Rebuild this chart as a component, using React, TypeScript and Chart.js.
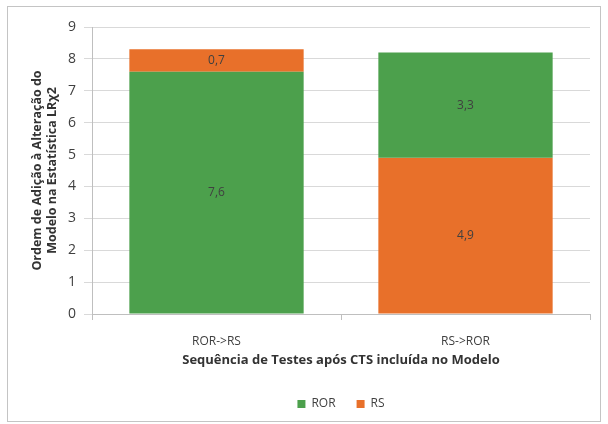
import React, { useEffect, useRef } from "react";
import { Chart, registerables } from "chart.js";

Chart.register(...registerables);

const categories = ["ROR->RS", "RS->ROR"];
const rorValues = [7.6, 3.3];
const rsValues = [0.7, 4.9];
const bottomSeries = ["ROR", "RS"]; // which series sits at the bottom in each category
const yTicksMax = 9;
const yTitle = ["Ordem de Adição à Alteração do", "Modelo na Estatística LRχ2"];
const xTitle = "Sequência de Testes após CTS incluída no Modelo";

const GREEN = "#4ca04c";
const ORANGE = "#e8702a";
const FONT = "'Open Sans', 'Noto Sans', sans-serif";

function ranges(series: "ROR" | "RS") {
  return categories.map((_, i) => {
    const ror = rorValues[i];
    const rs = rsValues[i];
    const bottom = bottomSeries[i];
    const own = series === "ROR" ? ror : rs;
    const other = series === "ROR" ? rs : ror;
    if (bottom === series) return [0, own];
    return [other, other + own];
  });
}

const valueLabels = {
  id: "valueLabels",
  afterDatasetsDraw(chart: any) {
    const ctx = chart.ctx;
    ctx.save();
    ctx.font = `12px ${FONT}`;
    ctx.fillStyle = "#404040";
    ctx.textAlign = "center";
    ctx.textBaseline = "middle";
    chart.data.datasets.forEach((ds: any, di: number) => {
      const meta = chart.getDatasetMeta(di);
      meta.data.forEach((bar: any, i: number) => {
        const v = ds.raw[i];
        const y = (bar.y + bar.base) / 2;
        ctx.fillText(v.toFixed(1).replace(".", ","), bar.x, y);
      });
    });
    ctx.restore();
  },
};

// centre the legend under the plot area rather than the whole canvas
const legendUnderPlot = {
  id: "legendUnderPlot",
  afterLayout(chart: any) {
    const lg = chart.legend;
    const ca = chart.chartArea;
    if (!lg || !ca) return;
    const dx = (ca.left + ca.right) / 2 - (lg.left + lg.right) / 2;
    lg.left += dx;
    lg.right += dx;
  },
};

export default function App() {
  const ref = useRef<HTMLCanvasElement>(null);
  useEffect(() => {
    if (!ref.current) return;
    const chart = new Chart(ref.current, {
      type: "bar",
      data: {
        labels: categories,
        datasets: [
          {
            label: "ROR",
            data: ranges("ROR") as any,
            raw: rorValues,
            backgroundColor: GREEN,
            barPercentage: 0.7,
            categoryPercentage: 1,
          } as any,
          {
            label: "RS",
            data: ranges("RS") as any,
            raw: rsValues,
            backgroundColor: ORANGE,
            barPercentage: 0.7,
            categoryPercentage: 1,
          } as any,
        ],
      },
      options: {
        animation: false,
        responsive: false,
        layout: { padding: { left: 22, right: 10, top: 20, bottom: 1 } },
        scales: {
          x: {
            stacked: true,
            grid: {
              offset: true,
              drawOnChartArea: false,
              drawTicks: true,
              tickLength: 6,
              color: "#bfbfbf",
            },
            border: { color: "#bfbfbf" },
            ticks: { color: "#404040", font: { family: FONT, size: 12 }, padding: 14 },
            title: {
              display: true,
              text: xTitle,
              color: "#333333",
              font: { family: FONT, size: 13, weight: "bold" },
              padding: { top: -10, bottom: 9 },
            },
          },
          y: {
            stacked: false,
            min: 0,
            max: yTicksMax,
            ticks: { stepSize: 1, color: "#404040", font: { family: FONT, size: 14 }, padding: 8 },
            grid: { color: "#d9d9d9", tickLength: 8 },
            border: { color: "#bfbfbf" },
            title: {
              display: true,
              text: yTitle,
              color: "#333333",
              font: { family: FONT, size: 12.5, weight: "bold" },
              padding: { top: 0, bottom: 0 },
            },
          },
        },
        plugins: {
          legend: {
            position: "bottom",
            labels: {
              boxWidth: 8,
              boxHeight: 8,
              color: "#404040",
              font: { family: FONT, size: 12 },
              padding: 21,
            },
          },
          tooltip: { enabled: false },
        },
      } as any,
      plugins: [valueLabels, legendUnderPlot],
    });
    return () => chart.destroy();
  }, []);
  return (
    <div
      style={{
        position: "absolute",
        left: 7,
        top: 6,
        width: 594,
        height: 416,
        border: "1px solid #c4c4c4",
        boxSizing: "border-box",
        background: "#fff",
      }}
    >
      <canvas ref={ref} width={592} height={414} style={{ display: "block" }} />
    </div>
  );
}
